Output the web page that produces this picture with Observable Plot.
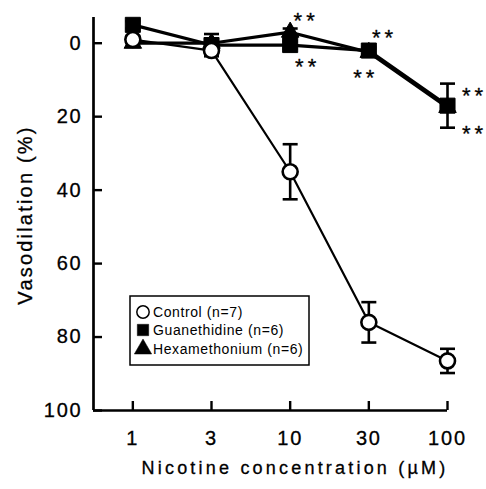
<!DOCTYPE html>
<html><head><meta charset="utf-8">
<script src="https://cdn.jsdelivr.net/npm/d3@7"></script>
<script src="https://cdn.jsdelivr.net/npm/@observablehq/plot@0.6"></script>
<style>
body{margin:0;background:#fff;}
#chart svg{display:block;font-family:Arial,"Liberation Sans",Helvetica,sans-serif;background:#fff;}
</style></head><body><div id="chart"></div>
<script>
// ---- data ----
const doses = ["1", "3", "10", "30", "100"];
const seriesNames = ["Control", "Guanethidine", "Hexamethonium"];
const legendLabels = ["Control (n=7)", "Guanethidine (n=6)", "Hexamethonium (n=6)"];
const controlMean = [-1, 2, 35, 76, 86.5];
const controlErr = [1, 1.5, 7.5, 5.5, 3.3];
const guanMean = [-5, 0.5, 0.5, 2, 17];
const guanErr = [1, 3, 1, 1, 6];
const hexaMean = [0, 0, -3, 2.5, 17.5];
const hexaErr = [1, 1, 1, 1, 1];
const yTicks = [0, 20, 40, 60, 80, 100];
const yDomain = [-7, 100];
const xTitle = "Nicotine concentration (\u00B5M)";
const yTitle = "Vasodilation (%)";
const starLabel = "**";
const starDose = ["10", "10", "30", "30", "100", "100"];
const starSeries = ["Hexamethonium", "Guanethidine", "Guanethidine", "Hexamethonium", "Guanethidine", "Guanethidine"];

// ---- styles (pixel offsets, not data) ----
const starOffsets = [[16, -11], [17.5, 22], [15.7, -12.5], [-3, 25.5], [27, -9.5], [27, 28]];

const means = {Control: controlMean, Guanethidine: guanMean, Hexamethonium: hexaMean};
const errs = {Control: controlErr, Guanethidine: guanErr, Hexamethonium: hexaErr};
const rows = seriesNames.flatMap(s => doses.map((d, i) => ({series: s, dose: d, i, mean: means[s][i], err: errs[s][i]})));
const bySeries = s => rows.filter(r => r.series === s);
const xDomain = [-0.5, doses.length - 1];

const capSymbol = {draw(ctx, size) { const w = Math.sqrt(size / Math.PI); ctx.moveTo(-w, 0); ctx.lineTo(w, 0); }};

const starMarks = starDose.map((d, k) => {
  const i = doses.indexOf(d);
  const datum = {i, v: means[starSeries[k]][i], t: starLabel};
  return Plot.text([datum], {x: "i", y: "v", text: "t", dx: starOffsets[k][0], dy: starOffsets[k][1],
    fontSize: 22, fill: "black", stroke: "black", strokeWidth: 0.3, textAnchor: "middle", lineAnchor: "middle", className: "stars"});
});

const plot = Plot.plot({
  width: 486, height: 489,
  marginLeft: 93, marginRight: 39, marginTop: 17, marginBottom: 79,
  x: {type: "linear", domain: xDomain, axis: null},
  y: {domain: yDomain, reverse: true, axis: null},
  marks: [
    Plot.ruleY([yDomain[1]], {stroke: "black", strokeWidth: 2.7}),
    Plot.ruleX([xDomain[0]], {stroke: "black", strokeWidth: 2.7}),
    Plot.axisY(yTicks, {anchor: "left", tickSize: -9, tickPadding: 20, fontSize: 20, strokeWidth: 2.4, label: null, color: "black"}),
    Plot.axisX(doses.map((d, i) => i), {anchor: "bottom", tickSize: -9, tickPadding: 29, fontSize: 20, strokeWidth: 2.4, label: null, tickFormat: i => doses[i]}),
    Plot.line(bySeries("Guanethidine"), {x: "i", y: "mean", stroke: "black", strokeWidth: 3.2}),
    Plot.line(bySeries("Hexamethonium"), {x: "i", y: "mean", stroke: "black", strokeWidth: 3.2}),
    Plot.line(bySeries("Control"), {x: "i", y: "mean", stroke: "black", strokeWidth: 2.2}),
    Plot.ruleX(rows, {x: "i", y1: d => d.mean - d.err, y2: d => d.mean + d.err, stroke: "black", strokeWidth: 2.6}),
    Plot.dot(rows, {x: "i", y: d => d.mean - d.err, symbol: capSymbol, r: 7.5, fill: "none", stroke: "black", strokeWidth: 2.6}),
    Plot.dot(rows, {x: "i", y: d => d.mean + d.err, symbol: capSymbol, r: 7.5, fill: "none", stroke: "black", strokeWidth: 2.6}),
    Plot.dot(bySeries("Guanethidine"), {x: "i", y: "mean", symbol: "square", r: 8.5, fill: "black", stroke: "black", strokeWidth: 1}),
    Plot.dot(bySeries("Hexamethonium"), {x: "i", y: "mean", symbol: "triangle", r: 6.5, fill: "black", stroke: "black", strokeWidth: 1}),
    Plot.dot(bySeries("Control"), {x: "i", y: "mean", symbol: "circle", r: 7.5, fill: "white", stroke: "black", strokeWidth: 2.6}),
    ...starMarks
  ]
});

const svg = d3.select(plot);
svg.selectAll('g[aria-label="y-axis tick label"] text, g[aria-label="x-axis tick label"] text')
  .attr("letter-spacing", 1.8).attr("stroke", "black").attr("stroke-width", 0.3);
svg.selectAll("g.stars text").attr("letter-spacing", 4);

// axis titles
svg.append("text").attr("x", 295).attr("y", 474).attr("text-anchor", "middle")
  .attr("font-size", 18).attr("letter-spacing", 3.2).attr("fill", "black")
  .attr("stroke", "black").attr("stroke-width", 0.3).text(xTitle);
svg.append("text").attr("transform", "translate(32,215) rotate(-90)").attr("text-anchor", "middle")
  .attr("font-size", 20).attr("letter-spacing", 2.2).attr("fill", "black")
  .attr("stroke", "black").attr("stroke-width", 0.3).text(yTitle);

// legend
const lg = svg.append("g");
lg.append("rect").attr("x", 130).attr("y", 296).attr("width", 179).attr("height", 69)
  .attr("fill", "white").attr("stroke", "black").attr("stroke-width", 1.5);
const legSyms = [d3.symbolCircle, d3.symbolSquare, d3.symbolTriangle];
const legSizes = [120, 130, 130];
const legY = [312, 330, 349];
legendLabels.forEach((lab, k) => {
  lg.append("path").attr("d", d3.symbol(legSyms[k], legSizes[k])())
    .attr("transform", `translate(143,${legY[k]})`)
    .attr("fill", k === 0 ? "white" : "black").attr("stroke", "black").attr("stroke-width", k === 0 ? 1.5 : 0.5);
  lg.append("text").attr("x", 153).attr("y", legY[k]).attr("dy", "0.35em").attr("text-anchor", "start")
    .attr("font-size", 14).attr("letter-spacing", 0.6).attr("fill", "black").text(lab);
});

document.getElementById("chart").appendChild(plot);
</script></body></html>
